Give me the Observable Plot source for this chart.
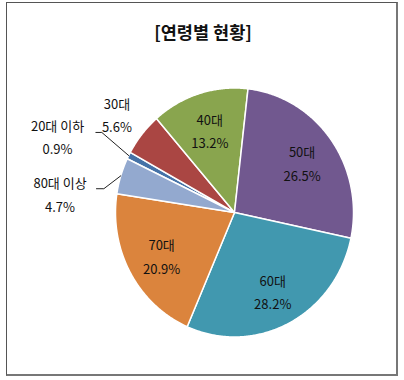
<!DOCTYPE html>
<html><head><meta charset="utf-8">
<script src="https://cdn.jsdelivr.net/npm/d3@7"></script>
<script src="https://cdn.jsdelivr.net/npm/@observablehq/plot@0.6"></script>
<style>
body{margin:0;background:#fff;}
#wrap{position:relative;width:404px;height:380px;font-family:"Noto Sans CJK KR","Noto Sans",sans-serif;overflow:hidden;}
#frame{position:absolute;left:6px;top:2px;width:392px;height:374px;border:1px solid #555;border-right:2px solid #777;border-bottom:2px solid #777;box-sizing:border-box;}
#title{position:absolute;left:0;width:406px;top:20px;text-align:center;font-weight:bold;font-size:17.5px;line-height:24px;color:#111;}
#chart{position:absolute;left:0;top:0;}
</style>
</head><body>
<div id="wrap"><div id="frame"></div><div id="title">[연령별 현황]</div><div id="chart"></div></div>
<script>
// ---- data ----
const categories = ["20대 이하","30대","40대","50대","60대","70대","80대 이상"];
const shares = [0.9, 5.6, 13.2, 26.5, 28.2, 20.9, 4.7];
const titleText = "[연령별 현황]";

// ---- styles / layout ----
const colors = ["#4572A7","#AA4643","#89A54E","#71588F","#4198AF","#DB843D","#93A9CF"];
const startAngle = 295.6; // degrees clockwise from 12 o'clock
const insideR = 0.7;
const outsideLayout = {
  "30대": {label: {r: 1.27}},
  "20대 이하": {label: {x: -1.487, y: 0.62}, elbow: [[-1.115, 0.643], [-1.165, 0.643]]},
  "80대 이상": {label: {x: -1.466, y: 0.16}, elbow: [[-1.098, 0.191], [-1.160, 0.191]]}
};

const rad = d => d * Math.PI / 180;
const total = d3.sum(shares);
let acc = startAngle;
const slices = categories.map((c, i) => {
  const a0 = acc, a1 = acc + shares[i] / total * 360;
  acc = a1;
  return {cat: c, share: shares[i], a0, a1, mid: (a0 + a1) / 2};
});

const polyPts = [];
for (const s of slices) {
  polyPts.push({cat: s.cat, x: 0, y: 0});
  const n = Math.max(2, Math.ceil((s.a1 - s.a0) / 0.5));
  for (let k = 0; k <= n; k++) {
    const a = rad(s.a0 + (s.a1 - s.a0) * k / n);
    polyPts.push({cat: s.cat, x: Math.sin(a), y: Math.cos(a)});
  }
  polyPts.push({cat: s.cat, x: 0, y: 0});
}

const labels = slices.map(s => {
  const o = outsideLayout[s.cat];
  let x, y;
  if (o && o.label.x !== undefined) { x = o.label.x; y = o.label.y; }
  else {
    const r = o ? o.label.r : insideR;
    x = r * Math.sin(rad(s.mid)); y = r * Math.cos(rad(s.mid));
  }
  return {cat: s.cat, x, y, text: `${s.cat}\n${s.share.toFixed(1)}%`};
});

const leaders = [];
for (const s of slices) {
  const o = outsideLayout[s.cat];
  if (o && o.elbow) {
    leaders.push({cat: s.cat, x: Math.sin(rad(s.mid)), y: Math.cos(rad(s.mid))});
    for (const [x, y] of o.elbow) leaders.push({cat: s.cat, x, y});
  }
}

const chart = Plot.plot({
  width: 404, height: 380,
  style: {fontFamily: '"Noto Sans CJK KR","Noto Sans",sans-serif', background: "transparent"},
  x: {domain: [-1, 1], range: [115, 353], axis: null},
  y: {domain: [-1, 1], range: [336.5, 87.5], axis: null},
  color: {domain: categories, range: colors},
  marks: [
    Plot.line(polyPts, {x: "x", y: "y", z: "cat", fill: "cat", stroke: "white", strokeWidth: 1.5, strokeLinejoin: "round", curve: "linear"}),
    Plot.line(leaders, {x: "x", y: "y", z: "cat", stroke: "#222", strokeWidth: 1}),
    Plot.text(labels, {x: "x", y: "y", text: "text", fontSize: 13, lineHeight: 1.8, fill: "#111"})
  ]
});
document.getElementById("chart").appendChild(chart);
document.getElementById("title").textContent = titleText;
</script>
</body></html>
